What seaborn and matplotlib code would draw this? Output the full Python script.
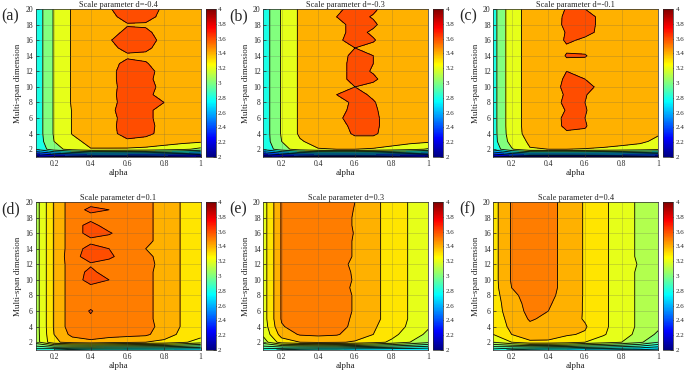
import numpy as np
import matplotlib
matplotlib.use("Agg")
import matplotlib.pyplot as plt
import seaborn as sns
from matplotlib.colors import Normalize, LinearSegmentedColormap
from matplotlib.cm import ScalarMappable

# grid of the parameter sweep
ALPHA = [0.1, 0.2, 0.3, 0.4, 0.5, 0.6, 0.7, 0.8, 0.9, 1.0]
DIMS = [1, 2, 3, 4, 5, 6, 7, 8, 9, 10, 11, 12, 13, 14, 15, 16, 17, 18, 19, 20]

TITLES = ["Scale parameter d=-0.4", "Scale parameter d=-0.3", "Scale parameter d=-0.1",
          "Scale parameter d=0.1", "Scale parameter d=0.3", "Scale parameter d=0.4"]
TAGS = ["(a)", "(b)", "(c)", "(d)", "(e)", "(f)"]

LEVELS_COARSE = [2.0, 2.2, 2.4, 2.6, 2.8, 3.0, 3.2, 3.4, 3.6, 3.8, 4.0]
LEVELS_FINE = [2.0, 2.1, 2.2, 2.3, 2.4, 2.5, 2.6, 2.7, 2.8, 2.9, 3.0,
               3.1, 3.2, 3.3, 3.4, 3.5, 3.6, 3.7, 3.8, 3.9, 4.0]
CBAR_TICKS = [2.0, 2.2, 2.4, 2.6, 2.8, 3.0, 3.2, 3.4, 3.6, 3.8, 4.0]
CBAR_LABELS = ["2", "2.2", "2.4", "2.6", "2.8", "3", "3.2", "3.4", "3.6", "3.8", "4"]

# rows = multi-span dimension 1..20, columns = alpha 0.1..1.0
VALS_A = [
    [2.10, 2.12, 2.12, 2.12, 2.12, 2.12, 2.12, 2.10, 2.08, 2.05],
    [2.82, 3.12, 3.28, 3.39, 3.38, 3.37, 3.35, 3.30, 3.24, 3.15],
    [2.85, 3.20, 3.34, 3.46, 3.52, 3.57, 3.54, 3.50, 3.46, 3.43],
    [2.86, 3.22, 3.41, 3.49, 3.55, 3.66, 3.64, 3.55, 3.50, 3.46],
    [2.86, 3.22, 3.41, 3.50, 3.56, 3.66, 3.65, 3.55, 3.50, 3.46],
    [2.86, 3.22, 3.41, 3.50, 3.55, 3.66, 3.64, 3.54, 3.50, 3.46],
    [2.86, 3.22, 3.41, 3.50, 3.57, 3.66, 3.64, 3.54, 3.50, 3.46],
    [2.86, 3.22, 3.42, 3.50, 3.55, 3.66, 3.65, 3.60, 3.50, 3.46],
    [2.86, 3.22, 3.42, 3.50, 3.56, 3.66, 3.64, 3.54, 3.50, 3.46],
    [2.86, 3.22, 3.42, 3.50, 3.55, 3.66, 3.65, 3.56, 3.50, 3.46],
    [2.86, 3.22, 3.42, 3.50, 3.56, 3.66, 3.64, 3.54, 3.50, 3.46],
    [2.86, 3.22, 3.42, 3.50, 3.56, 3.66, 3.65, 3.55, 3.50, 3.46],
    [2.86, 3.22, 3.42, 3.50, 3.56, 3.63, 3.61, 3.54, 3.50, 3.46],
    [2.86, 3.22, 3.42, 3.50, 3.54, 3.58, 3.57, 3.53, 3.50, 3.46],
    [2.86, 3.22, 3.42, 3.50, 3.56, 3.64, 3.63, 3.54, 3.50, 3.46],
    [2.86, 3.22, 3.42, 3.50, 3.59, 3.66, 3.66, 3.56, 3.50, 3.46],
    [2.86, 3.22, 3.42, 3.50, 3.55, 3.63, 3.63, 3.54, 3.50, 3.46],
    [2.86, 3.22, 3.42, 3.50, 3.54, 3.59, 3.58, 3.53, 3.50, 3.46],
    [2.86, 3.22, 3.42, 3.50, 3.56, 3.65, 3.66, 3.55, 3.50, 3.46],
    [2.86, 3.22, 3.42, 3.50, 3.59, 3.66, 3.66, 3.58, 3.50, 3.46],
]

VALS_B = [
    [2.08, 2.10, 2.12, 2.12, 2.12, 2.12, 2.12, 2.10, 2.08, 2.05],
    [2.85, 3.12, 3.30, 3.39, 3.40, 3.40, 3.38, 3.33, 3.26, 3.18],
    [2.88, 3.20, 3.38, 3.47, 3.51, 3.55, 3.55, 3.50, 3.46, 3.43],
    [2.88, 3.22, 3.43, 3.50, 3.53, 3.62, 3.62, 3.54, 3.50, 3.46],
    [2.88, 3.22, 3.43, 3.50, 3.54, 3.64, 3.63, 3.54, 3.50, 3.46],
    [2.88, 3.22, 3.43, 3.50, 3.58, 3.64, 3.63, 3.54, 3.50, 3.46],
    [2.88, 3.22, 3.43, 3.50, 3.55, 3.64, 3.62, 3.54, 3.50, 3.46],
    [2.88, 3.22, 3.43, 3.50, 3.54, 3.63, 3.61, 3.53, 3.50, 3.46],
    [2.88, 3.22, 3.43, 3.50, 3.60, 3.64, 3.58, 3.53, 3.50, 3.46],
    [2.88, 3.22, 3.43, 3.50, 3.55, 3.60, 3.57, 3.53, 3.50, 3.46],
    [2.88, 3.22, 3.43, 3.50, 3.55, 3.64, 3.62, 3.54, 3.50, 3.46],
    [2.88, 3.22, 3.43, 3.50, 3.55, 3.64, 3.59, 3.53, 3.50, 3.46],
    [2.88, 3.22, 3.43, 3.50, 3.55, 3.64, 3.60, 3.53, 3.50, 3.46],
    [2.88, 3.22, 3.43, 3.50, 3.55, 3.63, 3.60, 3.53, 3.50, 3.46],
    [2.88, 3.22, 3.43, 3.50, 3.54, 3.60, 3.57, 3.53, 3.50, 3.46],
    [2.88, 3.22, 3.43, 3.50, 3.58, 3.64, 3.61, 3.53, 3.50, 3.46],
    [2.88, 3.22, 3.43, 3.50, 3.56, 3.64, 3.58, 3.53, 3.50, 3.46],
    [2.88, 3.22, 3.43, 3.50, 3.56, 3.64, 3.62, 3.53, 3.50, 3.46],
    [2.88, 3.22, 3.43, 3.50, 3.60, 3.64, 3.59, 3.53, 3.50, 3.46],
    [2.88, 3.22, 3.43, 3.50, 3.57, 3.65, 3.62, 3.54, 3.50, 3.46],
]

VALS_C = [
    [2.12, 2.15, 2.15, 2.15, 2.15, 2.15, 2.15, 2.14, 2.12, 2.10],
    [2.88, 3.18, 3.39, 3.40, 3.40, 3.39, 3.37, 3.34, 3.30, 3.25],
    [2.92, 3.28, 3.43, 3.48, 3.52, 3.52, 3.50, 3.47, 3.44, 3.35],
    [2.92, 3.32, 3.46, 3.50, 3.58, 3.58, 3.52, 3.50, 3.47, 3.42],
    [2.92, 3.33, 3.46, 3.52, 3.63, 3.61, 3.52, 3.50, 3.47, 3.44],
    [2.92, 3.33, 3.46, 3.53, 3.63, 3.60, 3.52, 3.50, 3.47, 3.44],
    [2.92, 3.33, 3.46, 3.50, 3.61, 3.61, 3.52, 3.50, 3.47, 3.44],
    [2.92, 3.33, 3.46, 3.53, 3.63, 3.60, 3.52, 3.50, 3.47, 3.44],
    [2.92, 3.33, 3.46, 3.51, 3.62, 3.61, 3.52, 3.50, 3.47, 3.44],
    [2.92, 3.33, 3.46, 3.54, 3.63, 3.63, 3.57, 3.50, 3.47, 3.44],
    [2.92, 3.33, 3.46, 3.53, 3.62, 3.60, 3.52, 3.50, 3.47, 3.44],
    [2.92, 3.33, 3.46, 3.50, 3.60, 3.57, 3.52, 3.50, 3.47, 3.44],
    [2.92, 3.33, 3.46, 3.50, 3.57, 3.56, 3.52, 3.50, 3.47, 3.44],
    [2.92, 3.33, 3.46, 3.50, 3.61, 3.61, 3.52, 3.50, 3.47, 3.44],
    [2.92, 3.33, 3.46, 3.50, 3.58, 3.56, 3.52, 3.50, 3.47, 3.44],
    [2.92, 3.33, 3.46, 3.50, 3.62, 3.58, 3.52, 3.50, 3.47, 3.44],
    [2.92, 3.33, 3.46, 3.50, 3.61, 3.63, 3.57, 3.50, 3.47, 3.44],
    [2.92, 3.33, 3.46, 3.52, 3.63, 3.64, 3.57, 3.50, 3.47, 3.44],
    [2.92, 3.33, 3.46, 3.51, 3.63, 3.64, 3.57, 3.50, 3.47, 3.44],
    [2.92, 3.33, 3.46, 3.50, 3.61, 3.60, 3.52, 3.50, 3.47, 3.44],
]

VALS_D = [
    [2.85, 2.80, 2.75, 2.72, 2.72, 2.72, 2.72, 2.72, 2.72, 2.72],
    [3.15, 3.38, 3.44, 3.47, 3.44, 3.42, 3.40, 3.38, 3.32, 3.25],
    [3.15, 3.40, 3.53, 3.56, 3.54, 3.53, 3.52, 3.44, 3.38, 3.34],
    [3.15, 3.41, 3.56, 3.58, 3.56, 3.55, 3.53, 3.47, 3.39, 3.32],
    [3.15, 3.41, 3.56, 3.59, 3.56, 3.55, 3.52, 3.47, 3.39, 3.32],
    [3.15, 3.41, 3.56, 3.605, 3.56, 3.55, 3.52, 3.47, 3.39, 3.32],
    [3.15, 3.41, 3.56, 3.58, 3.56, 3.55, 3.52, 3.47, 3.39, 3.32],
    [3.15, 3.41, 3.56, 3.58, 3.56, 3.55, 3.52, 3.47, 3.39, 3.32],
    [3.15, 3.41, 3.56, 3.58, 3.56, 3.55, 3.52, 3.47, 3.39, 3.32],
    [3.15, 3.41, 3.56, 3.63, 3.60, 3.55, 3.52, 3.47, 3.39, 3.32],
    [3.15, 3.41, 3.56, 3.62, 3.56, 3.55, 3.52, 3.47, 3.39, 3.32],
    [3.15, 3.41, 3.56, 3.59, 3.56, 3.55, 3.53, 3.47, 3.39, 3.32],
    [3.15, 3.41, 3.57, 3.64, 3.62, 3.55, 3.52, 3.47, 3.39, 3.32],
    [3.15, 3.41, 3.56, 3.63, 3.60, 3.55, 3.50, 3.47, 3.39, 3.32],
    [3.15, 3.41, 3.56, 3.58, 3.56, 3.55, 3.52, 3.47, 3.39, 3.32],
    [3.15, 3.41, 3.56, 3.63, 3.61, 3.55, 3.52, 3.47, 3.39, 3.32],
    [3.15, 3.41, 3.56, 3.63, 3.56, 3.55, 3.52, 3.47, 3.39, 3.32],
    [3.15, 3.41, 3.56, 3.57, 3.56, 3.55, 3.52, 3.47, 3.39, 3.32],
    [3.15, 3.41, 3.56, 3.62, 3.60, 3.55, 3.52, 3.47, 3.39, 3.32],
    [3.15, 3.41, 3.56, 3.57, 3.56, 3.55, 3.52, 3.47, 3.39, 3.32],
]

VALS_E = [
    [2.85, 2.78, 2.74, 2.72, 2.72, 2.70, 2.70, 2.70, 2.70, 2.70],
    [3.15, 3.35, 3.40, 3.42, 3.41, 3.39, 3.34, 3.28, 3.20, 3.12],
    [3.22, 3.44, 3.51, 3.52, 3.51, 3.45, 3.40, 3.33, 3.25, 3.18],
    [3.24, 3.49, 3.55, 3.56, 3.53, 3.48, 3.41, 3.36, 3.28, 3.21],
    [3.25, 3.51, 3.57, 3.58, 3.55, 3.48, 3.42, 3.37, 3.29, 3.22],
    [3.25, 3.51, 3.57, 3.58, 3.55, 3.49, 3.42, 3.37, 3.29, 3.22],
    [3.25, 3.51, 3.57, 3.58, 3.55, 3.49, 3.42, 3.37, 3.29, 3.22],
    [3.25, 3.51, 3.57, 3.58, 3.55, 3.49, 3.42, 3.37, 3.29, 3.22],
    [3.25, 3.51, 3.57, 3.58, 3.55, 3.48, 3.42, 3.37, 3.29, 3.22],
    [3.25, 3.51, 3.57, 3.58, 3.55, 3.49, 3.42, 3.37, 3.29, 3.22],
    [3.25, 3.51, 3.57, 3.58, 3.55, 3.485, 3.42, 3.37, 3.29, 3.22],
    [3.25, 3.51, 3.57, 3.58, 3.55, 3.47, 3.42, 3.37, 3.29, 3.22],
    [3.25, 3.51, 3.57, 3.58, 3.55, 3.49, 3.42, 3.37, 3.29, 3.22],
    [3.25, 3.51, 3.57, 3.58, 3.55, 3.49, 3.42, 3.37, 3.29, 3.22],
    [3.25, 3.51, 3.57, 3.58, 3.55, 3.49, 3.42, 3.37, 3.29, 3.22],
    [3.25, 3.51, 3.57, 3.58, 3.55, 3.495, 3.42, 3.37, 3.29, 3.22],
    [3.25, 3.51, 3.57, 3.58, 3.55, 3.49, 3.42, 3.37, 3.29, 3.22],
    [3.25, 3.51, 3.57, 3.58, 3.55, 3.49, 3.42, 3.37, 3.29, 3.22],
    [3.25, 3.51, 3.57, 3.58, 3.55, 3.495, 3.42, 3.37, 3.29, 3.22],
    [3.25, 3.51, 3.57, 3.58, 3.55, 3.50, 3.42, 3.37, 3.29, 3.22],
]

VALS_F = [
    [2.85, 2.78, 2.74, 2.72, 2.72, 2.70, 2.70, 2.68, 2.68, 2.66],
    [3.20, 3.30, 3.38, 3.38, 3.35, 3.30, 3.25, 3.20, 3.12, 3.00],
    [3.30, 3.40, 3.46, 3.45, 3.41, 3.39, 3.31, 3.24, 3.17, 3.08],
    [3.34, 3.42, 3.48, 3.47, 3.44, 3.41, 3.32, 3.25, 3.18, 3.12],
    [3.35, 3.43, 3.51, 3.48, 3.45, 3.39, 3.32, 3.25, 3.18, 3.13],
    [3.36, 3.44, 3.53, 3.50, 3.46, 3.39, 3.32, 3.25, 3.18, 3.13],
    [3.36, 3.45, 3.54, 3.51, 3.46, 3.39, 3.32, 3.25, 3.18, 3.13],
    [3.36, 3.47, 3.55, 3.52, 3.47, 3.39, 3.32, 3.25, 3.18, 3.13],
    [3.36, 3.50, 3.56, 3.53, 3.47, 3.39, 3.32, 3.25, 3.18, 3.13],
    [3.36, 3.51, 3.56, 3.53, 3.47, 3.39, 3.32, 3.25, 3.18, 3.13],
    [3.36, 3.51, 3.56, 3.53, 3.47, 3.39, 3.32, 3.25, 3.18, 3.13],
    [3.36, 3.51, 3.56, 3.53, 3.47, 3.39, 3.32, 3.25, 3.19, 3.13],
    [3.36, 3.51, 3.56, 3.53, 3.47, 3.39, 3.32, 3.25, 3.18, 3.13],
    [3.36, 3.51, 3.56, 3.53, 3.47, 3.39, 3.32, 3.25, 3.18, 3.13],
    [3.36, 3.51, 3.56, 3.53, 3.47, 3.39, 3.32, 3.25, 3.18, 3.13],
    [3.36, 3.51, 3.56, 3.53, 3.47, 3.39, 3.32, 3.25, 3.18, 3.13],
    [3.36, 3.51, 3.56, 3.53, 3.47, 3.39, 3.32, 3.25, 3.18, 3.13],
    [3.36, 3.51, 3.56, 3.53, 3.47, 3.39, 3.32, 3.25, 3.18, 3.13],
    [3.36, 3.51, 3.56, 3.53, 3.47, 3.39, 3.32, 3.25, 3.18, 3.13],
    [3.36, 3.51, 3.56, 3.53, 3.47, 3.39, 3.32, 3.25, 3.18, 3.13],
]

sns.set_style("ticks")
plt.rcParams['font.family'] = ['Liberation Serif', 'DejaVu Serif']
plt.rcParams['axes.linewidth'] = 0.5

W, H = 685, 370

# matlab-style jet (matplotlib's own jet has slightly different breakpoints)
jet_ml = LinearSegmentedColormap("jet_ml", {
    'red': [(0, 0, 0), (0.375, 0, 0), (0.625, 1, 1), (0.875, 1, 1), (1, 0.5, 0.5)],
    'green': [(0, 0, 0), (0.125, 0, 0), (0.375, 1, 1), (0.625, 1, 1), (0.875, 0, 0), (1, 0, 0)],
    'blue': [(0, 0.5, 0.5), (0.125, 1, 1), (0.375, 1, 1), (0.625, 0, 0), (1, 0, 0)],
}, N=256)
norm = Normalize(2, 4)


def px_box(left, top, width, height):
    # pixel box (from the top-left corner) -> figure fraction
    return [left / W, 1 - (top + height) / H, width / W, height / H]


def draw_panel(fig, left, top, vals, levels, title, tag):
    ax = fig.add_axes(px_box(left, top, 165, 148))
    cax = fig.add_axes(px_box(left + 170, top, 10, 148))
    z = np.array(vals)
    # fill colour of each band = colour of its lower level (matlab style)
    fills = [jet_ml(norm(lv)) for lv in levels[:-1]]
    ax.contourf(ALPHA, DIMS, z, levels=levels, colors=fills)
    ax.contour(ALPHA, DIMS, z, levels=levels, colors='k', linewidths=0.6)
    ax.set_xlim(0.1, 1)
    ax.set_ylim(1, 20)
    ax.set_xticks([0.2, 0.4, 0.6, 0.8, 1.0])
    ax.set_xticklabels(["0.2", "0.4", "0.6", "0.8", "1"])
    ax.set_yticks([2, 4, 6, 8, 10, 12, 14, 16, 18, 20])
    ax.grid(True, color='0.35', alpha=0.3, linewidth=0.5)
    ax.set_axisbelow(False)
    ax.tick_params(direction='in', length=2.5, width=0.5, labelsize=5.5, pad=2)
    ax.set_title(title, fontsize=6, pad=1.5)
    ax.set_xlabel("alpha", fontsize=6.5, labelpad=1)
    ax.set_ylabel("Multi-span dimension", fontsize=6.5, labelpad=2)

    cb = fig.colorbar(ScalarMappable(norm=norm, cmap=jet_ml), cax=cax)
    cb.set_ticks(CBAR_TICKS)
    cb.set_ticklabels(CBAR_LABELS)
    cb.outline.set_linewidth(0.5)
    cax.tick_params(direction='in', length=2, width=0.5, labelsize=5, pad=1.5)

    fig.text((left - 34.5) / W, 1 - (top + 7) / H, tag, fontsize=11.5,
             ha='left', va='center')


fig = plt.figure(figsize=(6.85, 3.7), dpi=100)

lefts = [35.7, 263.3, 493.3]
tops = [9, 202]
all_vals = [VALS_A, VALS_B, VALS_C, VALS_D, VALS_E, VALS_F]
all_levels = [LEVELS_COARSE, LEVELS_COARSE, LEVELS_COARSE, LEVELS_FINE, LEVELS_FINE, LEVELS_FINE]

for i in range(6):
    draw_panel(fig, lefts[i % 3], tops[i // 3], all_vals[i], all_levels[i], TITLES[i], TAGS[i])

fig.savefig("out.png", dpi=100)
